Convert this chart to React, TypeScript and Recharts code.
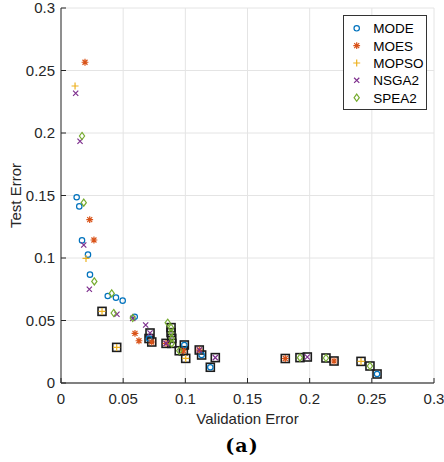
import React from 'react';
import { ScatterChart, Scatter, XAxis, YAxis, CartesianGrid, Legend } from 'recharts';

// points: [validation error, test error]
const modePts = [
  [0.0126, 0.1486], [0.0147, 0.1413], [0.0169, 0.1141], [0.0217, 0.1027], [0.0233, 0.0867],
  [0.0376, 0.0696], [0.0442, 0.0683], [0.0496, 0.0659], [0.0593, 0.053],
  [0.0708, 0.0356], [0.0992, 0.0304], [0.1131, 0.0224], [0.1201, 0.0126], [0.2542, 0.0072],
];
const moesPts = [
  [0.0193, 0.2566], [0.0231, 0.1307], [0.0265, 0.1144], [0.0595, 0.0397], [0.0627, 0.0338],
  [0.073, 0.0328], [0.0845, 0.0317], [0.0984, 0.0258], [0.1112, 0.0264], [0.1804, 0.0196], [0.2196, 0.0176],
];
const mopsoPts = [
  [0.0113, 0.2376], [0.0201, 0.0997],
  [0.033, 0.0573], [0.0448, 0.0285], [0.1003, 0.0197], [0.2413, 0.0173],
];
const nsga2Pts = [
  [0.0118, 0.2318], [0.0153, 0.1934], [0.0183, 0.1104], [0.0228, 0.075], [0.045, 0.055],
  [0.0577, 0.0517], [0.0681, 0.0464],
  [0.0716, 0.04], [0.0845, 0.0317], [0.1112, 0.0264], [0.1241, 0.0203], [0.1981, 0.0208],
];
const spea2Pts = [
  [0.0169, 0.1976], [0.0183, 0.1443], [0.0268, 0.0813], [0.0408, 0.0717], [0.0424, 0.056],
  [0.0577, 0.052], [0.0858, 0.0482],
  [0.0885, 0.0443], [0.0885, 0.0403], [0.0891, 0.0357], [0.0891, 0.0317], [0.0951, 0.0258],
  [0.1922, 0.0203], [0.2131, 0.02], [0.2485, 0.0136],
];

// highlighted (boxed) solutions
const frontPts = [
  [0.0708, 0.0356], [0.0992, 0.0304], [0.1131, 0.0224], [0.1201, 0.0126], [0.2542, 0.0072],
  [0.073, 0.0328], [0.0845, 0.0317], [0.0984, 0.0258], [0.1112, 0.0264], [0.1804, 0.0196], [0.2196, 0.0176],
  [0.033, 0.0573], [0.0448, 0.0285], [0.1003, 0.0197], [0.2413, 0.0173],
  [0.0716, 0.04], [0.1241, 0.0203], [0.1981, 0.0208],
  [0.0885, 0.0443], [0.0885, 0.0403], [0.0891, 0.0357], [0.0891, 0.0317], [0.0951, 0.0258],
  [0.1922, 0.0203], [0.2131, 0.02], [0.2485, 0.0136],
];

const axisTicks = [0, 0.05, 0.1, 0.15, 0.2, 0.25, 0.3];

const toXY = (arr: number[][]) => arr.map(([x, y]) => ({ x, y }));

const series = [
  { name: 'MODE', color: '#0072BD', marker: 'o', data: toXY(modePts) },
  { name: 'MOES', color: '#D95319', marker: '*', data: toXY(moesPts) },
  { name: 'MOPSO', color: '#EDB120', marker: '+', data: toXY(mopsoPts) },
  { name: 'NSGA2', color: '#7E2F8E', marker: 'x', data: toXY(nsga2Pts) },
  { name: 'SPEA2', color: '#77AC30', marker: 'd', data: toXY(spea2Pts) },
];

const FONT = '"Liberation Sans", Arial, Helvetica, sans-serif';
const INK = '#262626';

function drawMarker(kind: string, cx: number, cy: number, color: string) {
  const sw = 1.2;
  if (kind === 'o') return <circle cx={cx} cy={cy} r={2.7} fill="none" stroke={color} strokeWidth={sw} />;
  if (kind === '+') {
    const r = 3.5;
    return <path d={`M${cx - r},${cy}H${cx + r}M${cx},${cy - r}V${cy + r}`} stroke={color} strokeWidth={sw} fill="none" />;
  }
  if (kind === 'x') {
    const r = 2.6;
    return <path d={`M${cx - r},${cy - r}L${cx + r},${cy + r}M${cx - r},${cy + r}L${cx + r},${cy - r}`} stroke={color} strokeWidth={sw} fill="none" />;
  }
  if (kind === '*') {
    const r = 3.4, d = 2.5;
    return (
      <path
        d={`M${cx - r},${cy}H${cx + r}M${cx},${cy - r}V${cy + r}M${cx - d},${cy - d}L${cx + d},${cy + d}M${cx - d},${cy + d}L${cx + d},${cy - d}`}
        stroke={color} strokeWidth={sw} fill="none"
      />
    );
  }
  if (kind === 'd') {
    return (
      <polygon
        points={`${cx},${cy - 3.6} ${cx + 2.6},${cy} ${cx},${cy + 3.6} ${cx - 2.6},${cy}`}
        fill="none" stroke={color} strokeWidth={sw}
      />
    );
  }
  // box around a highlighted point
  return <rect x={cx - 4} y={cy - 4} width={8} height={8} fill="none" stroke="#1c1c1c" strokeWidth={1.6} />;
}

const YTick = ({ x, y, payload }: any) => (
  <g>
    <line x1={x} x2={x + 5} y1={y} y2={y} stroke={INK} />
    <text x={x - 6} y={y + 5} textAnchor="end" fontSize={15} fontFamily={FONT} fill={INK}>
      {String(payload.value)}
    </text>
  </g>
);

const XTick = ({ x, y, payload }: any) => (
  <g>
    <line x1={x} x2={x} y1={y} y2={y - 5} stroke={INK} />
    <text x={x} y={y + 20.5} textAnchor="middle" fontSize={15} fontFamily={FONT} fill={INK}>
      {String(payload.value)}
    </text>
  </g>
);

const XLabel = ({ viewBox }: any) => {
  const vb = viewBox || { x: 61, y: 383, width: 373 };
  return (
    <text x={vb.x + vb.width / 2} y={vb.y + 40.5} textAnchor="middle" fontSize={15} fontFamily={FONT} fill={INK}>
      Validation Error
    </text>
  );
};

const YLabel = ({ viewBox }: any) => {
  const vb = viewBox || { y: 8, height: 375 };
  const cy = vb.y + vb.height / 2;
  return (
    <text x={20.5} y={cy} transform={`rotate(-90 20.5 ${cy})`} textAnchor="middle" fontSize={15} fontFamily={FONT} fill={INK}>
      Test Error
    </text>
  );
};

const LegendBox = () => (
  <div style={{ width: 84, height: 95, border: '1px solid #333', background: '#fff', boxSizing: 'border-box' }}>
    <svg width={82} height={93} style={{ display: 'block' }}>
      {series.map((s, i) => {
        const cy = 12.3 + i * 17.35;
        return (
          <g key={s.name}>
            {drawMarker(s.marker, 12.7, cy, s.color)}
            <text x={29.3} y={cy + 4.9} fontSize={13.5} fontFamily={FONT} fill="#000">{s.name}</text>
          </g>
        );
      })}
    </svg>
  </div>
);

export default function App() {
  return (
    <div style={{ position: 'absolute', left: 0, top: 0, width: 444, height: 462, background: '#fff' }}>
      <ScatterChart width={444} height={462} margin={{ top: 8, right: 10, bottom: 49, left: 0 }}>
        <CartesianGrid stroke="#e4e4e4" strokeWidth={1} />
        <XAxis
          type="number"
          dataKey="x"
          domain={[0, 0.3]}
          ticks={axisTicks}
          interval={0}
          height={30}
          tickSize={0}
          tickMargin={0}
          tick={<XTick />}
          axisLine={{ stroke: '#5a5a5a', strokeWidth: 1.3 }}
          tickLine={false}
          label={<XLabel />}
        />
        <YAxis
          type="number"
          dataKey="y"
          domain={[0, 0.3]}
          ticks={axisTicks}
          interval={0}
          width={61}
          tickSize={0}
          tickMargin={0}
          tick={<YTick />}
          axisLine={{ stroke: '#5a5a5a', strokeWidth: 1.3 }}
          tickLine={false}
          label={<YLabel />}
        />
        <Legend
          layout="horizontal"
          verticalAlign="middle"
          align="center"
          content={() => <LegendBox />}
          wrapperStyle={{ left: 343, top: 15, width: 84, height: 95 }}
        />
        <Scatter
          name="front"
          data={toXY(frontPts)}
          legendType="none"
          isAnimationActive={false}
          shape={(p: any) => drawMarker('box', p.cx, p.cy, '#1c1c1c')}
        />
        {series.map((s) => (
          <Scatter
            key={s.name}
            name={s.name}
            data={s.data}
            fill={s.color}
            isAnimationActive={false}
            shape={(p: any) => drawMarker(s.marker, p.cx, p.cy, s.color)}
          />
        ))}
      </ScatterChart>
      <div
        style={{
          position: 'absolute', left: 0, top: 435, width: 484, textAlign: 'center',
          fontFamily: '"DejaVu Serif", serif', fontWeight: 'bold', fontSize: 19, lineHeight: '20px', color: '#000',
          letterSpacing: 1,
        }}
      >
        (a)
      </div>
    </div>
  );
}
